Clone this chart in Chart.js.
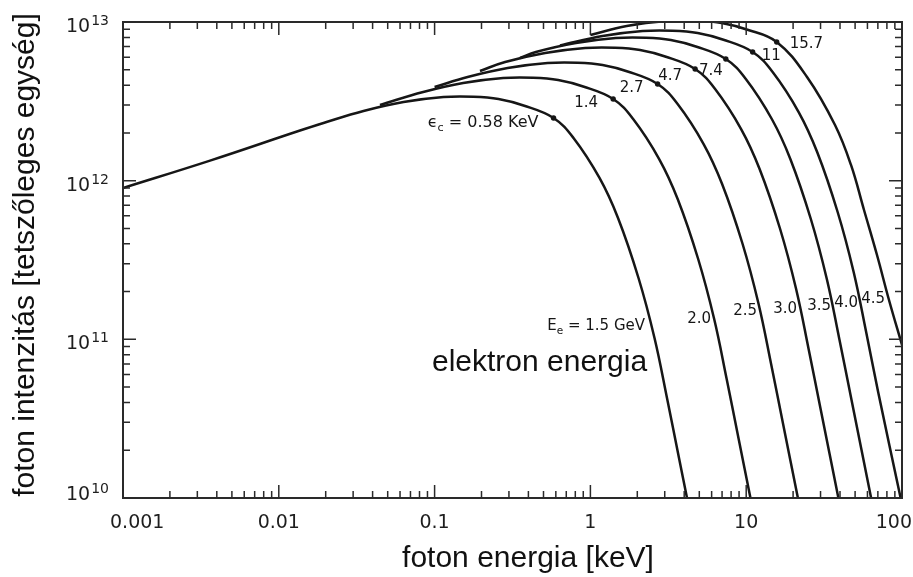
<!DOCTYPE html>
<html>
<head>
<meta charset="utf-8">
<title>Szinkrotron spektrum</title>
<script src="https://cdn.jsdelivr.net/npm/chart.js@4.4.1/dist/chart.umd.min.js"></script>
<style>
  html, body { margin: 0; padding: 0; background: #fff; }
  #wrap { width: 913px; height: 577px; position: relative; }
</style>
</head>
<body>
<div id="wrap"><canvas id="spectrum"></canvas></div>
<script>
// electron energies (GeV) and the critical photon energy of each curve (keV)
const electronEnergies = ["1.5", "2.0", "2.5", "3.0", "3.5", "4.0", "4.5"];
const criticalEnergies = [0.58, 1.4, 2.7, 4.7, 7.4, 11, 15.7];
const criticalFlux = [2.483e12, 3.271e12, 4.067e12, 5.056e12, 5.846e12, 6.471e12, 7.482e12];

// photon energy (keV) and intensity
const photonE15 = [0.001, 0.00362, 0.01338, 0.01936, 0.03497, 0.06316, 0.1141, 0.1777, 0.2572, 0.3721, 0.58, 0.779, 1.144, 1.504, 2.036, 2.579, 3.102, 3.704, 4.17];
const flux15 = [8.99e11, 1.338e12, 2.056e12, 2.31e12, 2.748e12, 3.131e12, 3.368e12, 3.382e12, 3.271e12, 2.977e12, 2.483e12, 1.858e12, 1.04e12, 5.817e11, 2.435e11, 1.02e11, 4.268e10, 1.788e10, 1e10];

const photonE20 = [0.0446, 0.0845, 0.1525, 0.2755, 0.4292, 0.621, 0.8987, 1.4, 1.881, 2.763, 3.632, 4.917, 6.229, 7.493, 8.946, 10.65];
const flux20 = [3.0e12, 3.621e12, 4.126e12, 4.437e12, 4.456e12, 4.31e12, 3.922e12, 3.271e12, 2.447e12, 1.369e12, 7.665e11, 3.208e11, 1.343e11, 5.622e10, 2.355e10, 1e10];

const photonE25 = [0.1, 0.1629, 0.2942, 0.5313, 0.8277, 1.198, 1.733, 2.7, 3.629, 5.329, 7.004, 9.483, 12.01, 14.45, 17.25, 21.47];
const flux25 = [3.893e12, 4.502e12, 5.13e12, 5.517e12, 5.541e12, 5.359e12, 4.876e12, 4.067e12, 3.043e12, 1.702e12, 9.53e11, 3.989e11, 1.67e11, 6.99e10, 2.928e10, 1e10];

const photonE30 = [0.1956, 0.2836, 0.5121, 0.9248, 1.441, 2.085, 3.017, 4.7, 6.316, 9.276, 12.19, 16.51, 20.91, 25.15, 30.03, 39.07];
const flux30 = [4.911e12, 5.597e12, 6.377e12, 6.858e12, 6.888e12, 6.662e12, 6.062e12, 5.056e12, 3.783e12, 2.116e12, 1.185e12, 4.959e11, 2.076e11, 8.69e10, 3.64e10, 1e10];

const photonE35 = [0.3533, 0.4465, 0.8062, 1.456, 2.269, 3.282, 4.75, 7.4, 9.945, 14.6, 19.2, 25.99, 32.92, 39.6, 47.29, 63.36];
const flux35 = [5.931e12, 6.471e12, 7.374e12, 7.93e12, 7.964e12, 7.703e12, 7.009e12, 5.846e12, 4.374e12, 2.447e12, 1.37e12, 5.734e11, 2.401e11, 1.005e11, 4.209e10, 1e10];

const photonE40 = [0.638, 1.198, 2.164, 3.372, 4.879, 7.061, 11, 14.78, 21.71, 28.54, 38.63, 48.94, 58.87, 70.29, 98];
const flux40 = [7.111e12, 8.162e12, 8.777e12, 8.816e12, 8.526e12, 7.758e12, 6.471e12, 4.841e12, 2.708e12, 1.516e12, 6.347e11, 2.658e11, 1.112e11, 4.659e10, 1e10];

const photonE45 = [1.0, 1.711, 3.089, 4.813, 6.964, 10.08, 15.7, 24.57, 37.15, 47.06, 57.04, 69.11, 82.51, 100];
const flux45 = [8.282e12, 9.437e12, 1.0149e13, 1.0193e13, 9.859e12, 8.971e12, 7.482e12, 4.502e12, 2.243e12, 1.256e12, 6.534e11, 3.401e11, 1.77e11, 9.21e10];

// axes
const xDecades = [0.001, 0.01, 0.1, 1, 10, 100];
const xTickLabels = ["0.001", "0.01", "0.1", "1", "10", "100"];
const yDecades = [1e10, 1e11, 1e12, 1e13];
const yTickExponents = ["10", "11", "12", "13"];

const curves = [
  [photonE15, flux15], [photonE20, flux20], [photonE25, flux25], [photonE30, flux30],
  [photonE35, flux35], [photonE40, flux40], [photonE45, flux45],
];

const ink = "#161616";

const datasets = curves.map(([xs, ys], i) => ({
  label: electronEnergies[i] + " GeV",
  data: xs.map((x, j) => ({ x: x, y: ys[j] })),
  borderColor: ink,
  borderWidth: 2.5,
  pointRadius: 0,
  fill: false,
  tension: 0.4,
}));

datasets.push({
  label: "critical",
  data: criticalEnergies.map((x, i) => ({ x: x, y: criticalFlux[i] })),
  showLine: false,
  pointRadius: 2.7,
  pointBackgroundColor: ink,
  pointBorderWidth: 0,
});

// label placement (px offsets from the dot, or canvas px)
const critLabelPos = [
  { dx: -15, dy: 9, align: "right" },
  { dx: -15, dy: 8, align: "right" },
  { dx: -14, dy: 8, align: "right" },
  { dx: -13, dy: 11, align: "right" },
  { dx: -3, dy: 16, align: "right" },
  { dx: 9, dy: 8, align: "left" },
  { dx: 13, dy: 6, align: "left" },
];
const eLabelPos = [[645, 330], [711, 323], [757, 315], [797, 313], [831, 310], [858, 307], [885, 303]];

function drawParts(ctx, parts, x, y, align, size) {
  let w = 0;
  parts.forEach(p => {
    ctx.font = (p.sub ? size * 0.7 : size) + "px 'DejaVu Sans'";
    p.w = ctx.measureText(p.t).width;
    w += p.w;
  });
  let cx = align === "right" ? x - w : x;
  ctx.textAlign = "left";
  parts.forEach(p => {
    ctx.font = (p.sub ? size * 0.7 : size) + "px 'DejaVu Sans'";
    ctx.fillText(p.t, cx, p.sub ? y + 4 : y);
    cx += p.w;
  });
}

const framePlugin = {
  id: "frame",
  afterDraw(chart) {
    const { ctx, chartArea: a, scales } = chart;
    const x = scales.x, y = scales.y;
    ctx.save();

    // frame
    ctx.strokeStyle = "#2a2a2a";
    ctx.lineWidth = 2;
    ctx.strokeRect(a.left, a.top, a.right - a.left, a.bottom - a.top);

    // inward ticks on all four sides
    ctx.lineWidth = 1.5;
    ctx.beginPath();
    xDecades.forEach(d => {
      for (let m = 1; m < 10; m++) {
        const v = d * m;
        if (v > x.max * 1.001) break;
        const px = x.getPixelForValue(v);
        const len = m === 1 ? 13 : 7;
        ctx.moveTo(px, a.bottom); ctx.lineTo(px, a.bottom - len);
        ctx.moveTo(px, a.top); ctx.lineTo(px, a.top + len);
      }
    });
    yDecades.forEach(d => {
      for (let m = 1; m < 10; m++) {
        const v = d * m;
        if (v > y.max * 1.001) break;
        const py = y.getPixelForValue(v);
        const len = m === 1 ? 13 : 7;
        ctx.moveTo(a.left, py); ctx.lineTo(a.left + len, py);
        ctx.moveTo(a.right, py); ctx.lineTo(a.right - len, py);
      }
    });
    ctx.stroke();

    ctx.fillStyle = "#1e1e1e";
    ctx.textBaseline = "alphabetic";

    // x tick labels
    ctx.font = "19px 'DejaVu Sans'";
    xDecades.forEach((d, i) => {
      const px = x.getPixelForValue(d);
      if (i === 0) { ctx.textAlign = "left"; ctx.fillText(xTickLabels[i], px - 13, 528); }
      else if (i === xDecades.length - 1) { ctx.textAlign = "right"; ctx.fillText(xTickLabels[i], px + 10, 528); }
      else { ctx.textAlign = "center"; ctx.fillText(xTickLabels[i], px, 528); }
    });

    // y tick labels: 10 with superscript exponent
    yDecades.forEach((d, i) => {
      const py = y.getPixelForValue(d);
      const base = Math.min(py + 10, a.bottom + 2);
      ctx.textAlign = "left";
      ctx.font = "19px 'DejaVu Sans'";
      ctx.fillText("10", 66, base);
      const w = ctx.measureText("10").width;
      ctx.font = "14px 'DejaVu Sans'";
      ctx.fillText(yTickExponents[i], 66 + w + 1, base - 7);
    });

    // critical energy labels
    ctx.fillStyle = ink;
    criticalEnergies.forEach((e, i) => {
      const px = x.getPixelForValue(e) + critLabelPos[i].dx;
      const py = y.getPixelForValue(criticalFlux[i]) + critLabelPos[i].dy;
      if (i === 0) {
        drawParts(ctx, [{ t: "\u03F5" }, { t: "c", sub: true }, { t: " = " + e + " KeV" }], px, py, "right", 16);
      } else {
        ctx.font = "15px 'DejaVu Sans'";
        ctx.textAlign = critLabelPos[i].align;
        ctx.fillText(String(e), px, py);
      }
    });

    // electron energy labels
    electronEnergies.forEach((e, i) => {
      const [px, py] = eLabelPos[i];
      if (i === 0) {
        drawParts(ctx, [{ t: "E" }, { t: "e", sub: true }, { t: " = " + e + " GeV" }], px, py, "right", 15);
      } else {
        ctx.font = "15px 'DejaVu Sans'";
        ctx.textAlign = "right";
        ctx.fillText(e, px, py);
      }
    });

    // titles
    ctx.fillStyle = "#111";
    ctx.font = "30px 'Liberation Sans', Arial, sans-serif";
    ctx.textAlign = "left";
    ctx.fillText("elektron energia", 432, 371);
    ctx.textAlign = "center";
    ctx.fillText("foton energia [keV]", 528, 567);
    ctx.translate(34, 255);
    ctx.rotate(-Math.PI / 2);
    ctx.fillText("foton intenzitás [tetszőleges egység]", 0, 0);

    ctx.restore();
  },
};

new Chart(document.getElementById("spectrum"), {
  type: "line",
  data: { datasets: datasets },
  options: {
    responsive: true,
    maintainAspectRatio: false,
    animation: false,
    layout: { padding: { left: 123, top: 22, right: 11, bottom: 79 } },
    scales: {
      x: { type: "logarithmic", min: 0.001, max: 100, display: false },
      y: { type: "logarithmic", min: 1e10, max: 1e13, display: false },
    },
    plugins: {
      legend: { display: false },
      tooltip: { enabled: false },
    },
  },
  plugins: [framePlugin],
});
</script>
</body>
</html>
